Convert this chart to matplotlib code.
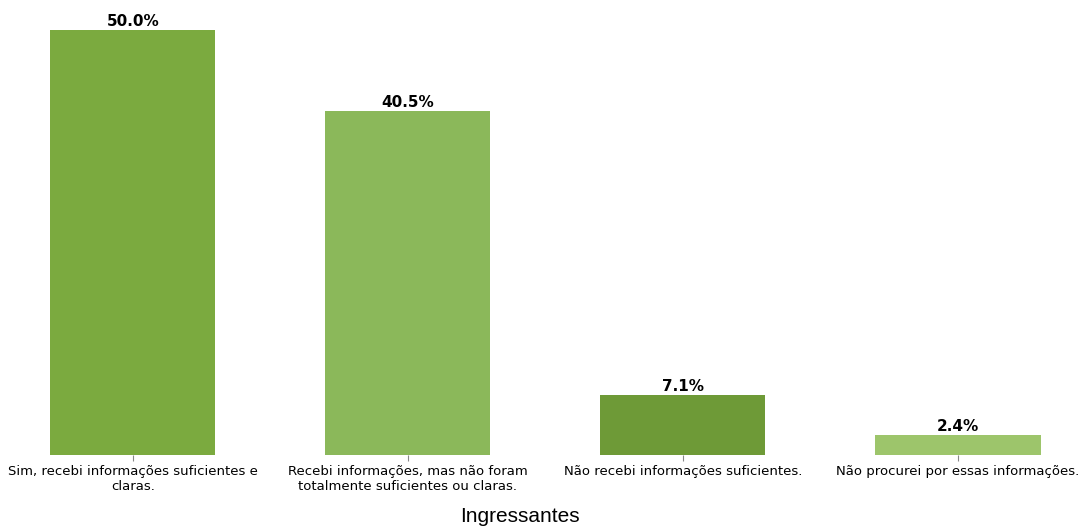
import matplotlib
matplotlib.use("Agg")
from matplotlib import pyplot as plt

# Chart data
categories = [
    "Sim, recebi informações suficientes e\nclaras.",
    "Recebi informações, mas não foram\ntotalmente suficientes ou claras.",
    "Não recebi informações suficientes.",
    "Não procurei por essas informações.",
]
percentages = [50.0, 40.5, 7.1, 2.4]
bar_colors = ["#7BAA3F", "#8BB85A", "#6E9A37", "#9DC56B"]
x_title = "Ingressantes"


def main():
    fig = plt.figure(figsize=(10.8, 5.26), dpi=100)
    ax = fig.add_axes([0, 71 / 526, 1, (455 - 30) / 526])

    positions = list(range(len(categories)))
    ax.bar(positions, percentages, width=0.6, color=bar_colors)

    for x, v in zip(positions, percentages):
        ax.text(x, v + 0.1, f"{v:.1f}%", ha="center", va="bottom",
                fontsize=11, fontweight="bold")

    ax.set_xticks(positions)
    ax.set_xticklabels(categories, fontsize=9.5)
    ax.tick_params(axis="x", length=4, color="#888888", pad=3)
    ax.set_yticks([])
    for s in ax.spines.values():
        s.set_visible(False)

    ax.set_xlim(-133 / 275, (1080 - 133) / 275)
    ax.set_ylim(0, 50)

    fig.text(520 / 1080, 1 - 516 / 526, x_title, ha="center", va="center",
             fontsize=15, family="Liberation Sans")

    fig.savefig("out.png", dpi=100)


if __name__ == "__main__":
    main()
